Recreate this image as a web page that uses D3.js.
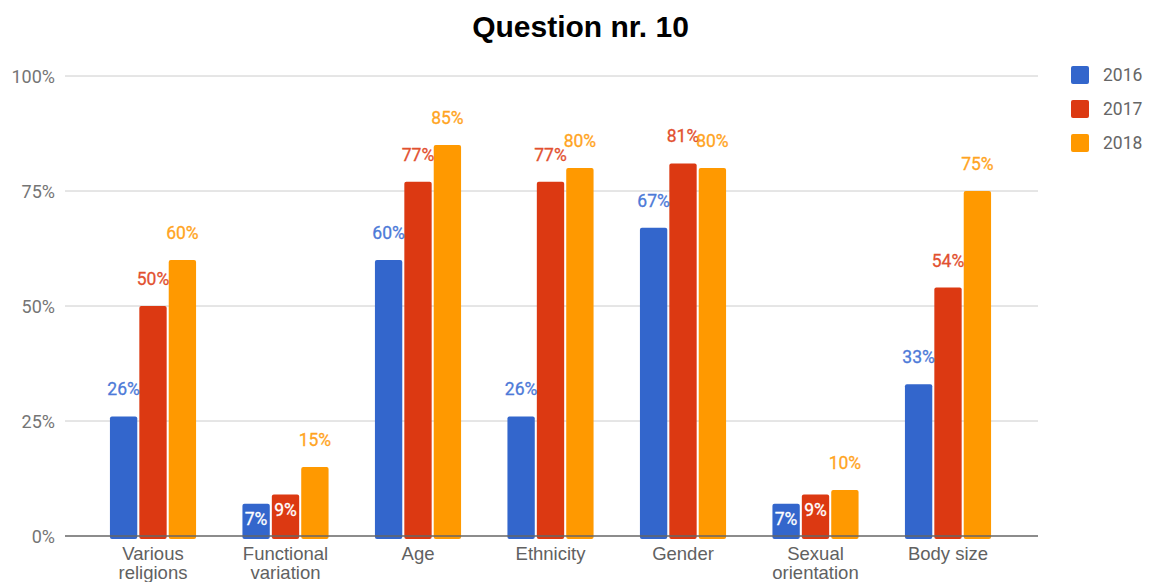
<!DOCTYPE html>
<html><head><meta charset="utf-8">
<script src="https://cdn.jsdelivr.net/npm/d3@7"></script>
<style>body{margin:0;background:#fff;} svg{display:block;font-family:Roboto,Arial,sans-serif;}</style>
</head><body>
<svg id="c" width="1151" height="582"></svg>
<script>
const categories = [["Various","religions"],["Functional","variation"],["Age"],["Ethnicity"],["Gender"],["Sexual","orientation"],["Body size"]];
const seriesNames = ["2016","2017","2018"];
const v2016 = [26,7,60,26,67,7,33];
const v2017 = [50,9,77,77,81,9,54];
const v2018 = [60,15,85,80,80,10,75];
const yTicks = [0,25,50,75,100];
const colors = ["#3366cc","#dc3912","#ff9900"];
const labelColors = ["#4d7ad8","#e2502f","#ffa422"];
const series = [v2016, v2017, v2018];

const svg = d3.select("#c");
const catKeys = categories.map((c,i)=>i);
const x0 = d3.scaleBand().domain(catKeys).range([86.75,1014.25]).paddingInner(0.35).paddingOuter(0.175);
const x1 = d3.scaleBand().domain(seriesNames).range([0,x0.bandwidth()]).paddingInner(0.07);
const y = d3.scaleLinear().domain([0,100]).range([536,76]);
const gridL = 65, gridR = 1038;

// title
svg.append("text").attr("x",580.5).attr("y",37).attr("text-anchor","middle")
  .attr("font-family","'Liberation Sans',Arial,sans-serif")
  .attr("font-size",30).attr("font-weight","bold").attr("fill","#000").text("Question nr. 10");

// gridlines
svg.append("g").selectAll("line").data(yTicks.filter(t=>t>0)).join("line")
  .attr("x1",gridL).attr("x2",gridR).attr("y1",d=>y(d)).attr("y2",d=>y(d))
  .attr("stroke","#cccccc").attr("stroke-width",1);

// y axis labels
const yAxis = d3.axisLeft(y).tickValues(yTicks).tickFormat(d=>d+"%").tickSize(0).tickPadding(0);
const yg = svg.append("g").attr("transform",`translate(${gridL-10},0)`).call(yAxis);
yg.select(".domain").remove();
yg.selectAll("text").attr("font-size",18).attr("fill","#757575").attr("font-family","Roboto,Arial,sans-serif").attr("dy","0.35em");

// bars
const groups = svg.append("g").selectAll("g").data(catKeys).join("g")
  .attr("transform",d=>`translate(${x0(d)},0)`);
seriesNames.forEach((s,si)=>{
  groups.append("rect")
    .attr("x",x1(s)).attr("width",x1.bandwidth())
    .attr("y",d=>y(series[si][d])).attr("height",d=>y(0)-y(series[si][d])+3)
    .attr("rx",2).attr("fill",colors[si]);
});

// baseline
svg.append("line").attr("x1",gridL).attr("x2",gridR).attr("y1",y(0)).attr("y2",y(0))
  .attr("stroke","#666").attr("stroke-width",1.5);

// annotations
seriesNames.forEach((s,si)=>{
  groups.append("text")
    .attr("x",x1(s)+x1.bandwidth()/2)
    .attr("y",d=>{const v=series[si][d]; return v<10 ? y(v)+21.5 : y(v)-21;})
    .attr("text-anchor","middle").attr("font-size",17.5)
    .attr("fill",d=>series[si][d]<10 ? "#fff" : labelColors[si])
    .attr("stroke",d=>series[si][d]<10 ? "#fff" : labelColors[si]).attr("stroke-width",0.3)
    .text(d=>series[si][d]+"%");
});

// x labels
const xAxis = d3.axisBottom(x0).tickSize(0).tickFormat("");
const xg = svg.append("g").attr("transform",`translate(0,${y(0)})`).call(xAxis);
xg.select(".domain").remove();
xg.selectAll(".tick").each(function(d){
  const t = d3.select(this).append("text").attr("text-anchor","middle")
    .attr("font-size",18.5).attr("fill","#616161");
  categories[d].forEach((line,li)=>{
    t.append("tspan").attr("x",0).attr("y",24+li*19).text(line);
  });
});

// legend
const lg = svg.append("g").attr("transform","translate(1071,0)");
seriesNames.forEach((s,si)=>{
  lg.append("rect").attr("x",0).attr("y",66+si*34).attr("width",18).attr("height",18).attr("rx",2).attr("fill",colors[si]);
  lg.append("text").attr("x",32).attr("y",75+si*34).attr("dy","0.35em").attr("font-size",17.5).attr("fill","#666").text(s);
});
</script>
</body></html>
